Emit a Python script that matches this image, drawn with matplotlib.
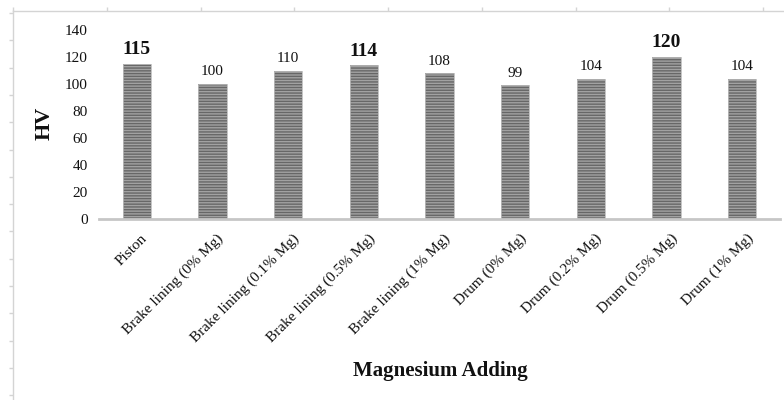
import numpy as np
import matplotlib
matplotlib.use("Agg")
import matplotlib.pyplot as plt
from matplotlib.transforms import ScaledTranslation

# Vickers hardness of cast parts with different magnesium additions
categories = [
    "Piston",
    "Brake lining (0% Mg)",
    "Brake lining (0.1% Mg)",
    "Brake lining (0.5% Mg)",
    "Brake lining (1% Mg)",
    "Drum (0% Mg)",
    "Drum (0.2% Mg)",
    "Drum (0.5% Mg)",
    "Drum (1% Mg)",
]
hardness = [115, 100, 110, 114, 108, 99, 104, 120, 104]
highlighted = ["Piston", "Brake lining (0.5% Mg)", "Drum (0.5% Mg)"]
y_ticks = [0, 20, 40, 60, 80, 100, 120, 140]

SERIF = ["Liberation Serif", "DejaVu Serif"]
TEXT = "#111111"
plt.rcParams["hatch.linewidth"] = 1.0

W, H = 784, 400
fig = plt.figure(figsize=(W / 100, H / 100), dpi=100)

# light outer chart-area frame with small outward ticks
fr = fig.add_axes([13 / W, 0, (W - 13) / W, (H - 11) / H], zorder=-1)
fr.patch.set_visible(False)
for side in ("right", "bottom"):
    fr.spines[side].set_visible(False)
for side in ("top", "left"):
    fr.spines[side].set_color("#d4d4d4")
    fr.spines[side].set_linewidth(1.0)
fr.set_xlim(0, W - 13)
fr.set_ylim(H - 11, 0)
fr.set_xticks(np.arange(0, W - 13, 93.75))
fr.set_yticks(np.arange(2, H - 11, 27.3))
fr.xaxis.tick_top()
fr.tick_params(axis="both", direction="out", length=3, width=1.0,
               color="#d4d4d4", labeltop=False, labelleft=False,
               labelbottom=False)

# main plotting area
ax = fig.add_axes([99 / W, 1 - 219 / H, 681 / W, 189 / H])
x = np.arange(len(categories))
ax.bar(x, hardness, width=0.375, color="#a2a2a2", edgecolor="#676767",
       linewidth=0, hatch="------", zorder=2)
ax.bar(x, hardness, width=0.375, fill=False, edgecolor="#bababa",
       linewidth=0.6, zorder=3)

ax.set_xlim(-0.5, len(categories) - 0.5)
ax.set_ylim(0, 140)
for s in ax.spines.values():
    s.set_visible(False)
ax.axhline(0, color="#c6c6c6", linewidth=2.0, zorder=4, clip_on=False)

ax.set_yticks(y_ticks)
ax.set_yticklabels([str(v) for v in y_ticks], family=SERIF, fontsize=11,
                   color=TEXT)
ax.tick_params(axis="y", length=0, pad=8)

ax.set_xticks(x)
ax.set_xticklabels(categories, family=SERIF, fontsize=11, color=TEXT,
                   rotation=45, ha="right", va="top", rotation_mode="anchor")
ax.tick_params(axis="x", length=0, pad=9)
shift = ScaledTranslation(3 / 72, 0, fig.dpi_scale_trans)
for lab in ax.get_xticklabels():
    lab.set_transform(lab.get_transform() + shift)

# value labels above the bars
for xi, cat, v in zip(x, categories, hardness):
    bold = cat in highlighted
    ax.annotate(str(v), (xi, v), xytext=(0, 4),
                textcoords="offset points", ha="center", va="bottom",
                family=SERIF, fontsize=14 if bold else 11,
                fontweight="bold" if bold else "normal", color=TEXT)

fig.text(45 / W, 1 - 123 / H, "HV", rotation=90, ha="center", va="center",
         family=SERIF, fontsize=16, fontweight="bold", color=TEXT)
fig.text(440 / W, 1 - 371 / H, "Magnesium Adding", ha="center", va="center",
         family=SERIF, fontsize=15, fontweight="bold", color=TEXT)

fig.savefig("out.png", dpi=100)
